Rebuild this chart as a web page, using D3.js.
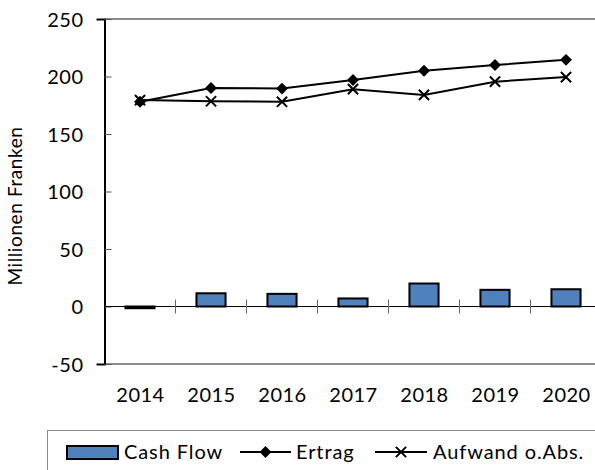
<!DOCTYPE html>
<html>
<head>
<meta charset="utf-8">
<script src="https://cdn.jsdelivr.net/npm/d3@7"></script>
<style>
  body { margin: 0; background: #fff; }
  text { font-family: Lato, "Open Sans", sans-serif; fill: #000; }
</style>
</head>
<body>
<div id="chart"></div>
<script>
var years = ["2014", "2015", "2016", "2017", "2018", "2019", "2020"];
var cashFlow = [-1.5, 11.5, 11, 7, 20, 14.5, 15];
var ertrag = [178, 190, 189.5, 197, 205, 210, 214.5];
var aufwand = [179.5, 178.5, 178, 189, 184, 195.5, 199.5];
var yTicks = [-50, 0, 50, 100, 150, 200, 250];

var svgWidth = 595;
var svgHeight = 470;

var svg = d3.select("#chart")
  .append("svg")
  .attr("width", svgWidth)
  .attr("height", svgHeight);

// plot area runs past the right edge of the picture
var x = d3.scaleBand()
  .domain(years)
  .range([104.5, 601.5]);

var y = d3.scaleLinear()
  .domain([-50, 250])
  .range([364, 19]);

// frame: gray top and bottom
svg.append("line")
  .attr("x1", 104.5).attr("x2", 602)
  .attr("y1", y(250)).attr("y2", y(250))
  .attr("stroke", "#8c8c8c").attr("stroke-width", 2);
svg.append("line")
  .attr("x1", 104.5).attr("x2", 602)
  .attr("y1", y(-50)).attr("y2", y(-50))
  .attr("stroke", "#8c8c8c").attr("stroke-width", 2);

// y axis
var yAxis = svg.append("g")
  .attr("transform", "translate(104.5,0)")
  .call(d3.axisLeft(y).tickValues(yTicks).tickSize(8).tickPadding(13)
    .tickFormat(d => String(d)));
yAxis.select(".domain").attr("stroke", "#000").attr("stroke-width", 2);
yAxis.selectAll(".tick line").attr("x2", 7).attr("stroke", "#555");
yAxis.selectAll(".tick text")
  .style("font-size", "20px")
  .style("font-family", "Lato, sans-serif")
  .style("letter-spacing", "0.5px")
  .attr("dy", "0.35em");

// zero line with crossing category ticks
svg.append("line")
  .attr("x1", 104.5).attr("x2", 602)
  .attr("y1", y(0)).attr("y2", y(0))
  .attr("stroke", "#000").attr("stroke-width", 1);
svg.selectAll(".xtick")
  .data(years.slice(1))
  .enter()
  .append("line")
  .attr("x1", d => x(d)).attr("x2", d => x(d))
  .attr("y1", y(0) - 7).attr("y2", y(0) + 7)
  .attr("stroke", "#666").attr("stroke-width", 1);

// x labels
svg.selectAll(".xlabel")
  .data(years)
  .enter()
  .append("text")
  .attr("x", d => x(d) + x.bandwidth() / 2 + 0.5)
  .attr("y", 401.5)
  .attr("text-anchor", "middle")
  .style("font-size", "20px")
  .style("letter-spacing", "0.5px")
  .text(d => d);

// bars
var barW = x.bandwidth() * 0.41;
svg.selectAll(".bar")
  .data(cashFlow)
  .enter()
  .append("rect")
  .attr("x", (d, i) => x(years[i]) + (x.bandwidth() - barW) / 2)
  .attr("y", d => y(Math.max(0, d)))
  .attr("width", barW)
  .attr("height", d => Math.abs(y(d) - y(0)))
  .attr("fill", "#4f81bd")
  .attr("stroke", "#000")
  .attr("stroke-width", 2);

var cx = (d, i) => x(years[i]) + x.bandwidth() / 2;
var line = d3.line().x(cx).y(d => y(d));

// Ertrag
svg.append("path")
  .datum(ertrag)
  .attr("d", line)
  .attr("fill", "none")
  .attr("stroke", "#000")
  .attr("stroke-width", 2);
var diamond = d3.symbol().type(d3.symbolDiamond2).size(90);
svg.selectAll(".ertrag")
  .data(ertrag)
  .enter()
  .append("path")
  .attr("d", diamond)
  .attr("transform", (d, i) => `translate(${cx(d, i)},${y(d)})`)
  .attr("fill", "#000");

// Aufwand o.Abs.
svg.append("path")
  .datum(aufwand)
  .attr("d", line)
  .attr("fill", "none")
  .attr("stroke", "#000")
  .attr("stroke-width", 2);
var cross = d3.symbol().type(d3.symbolTimes).size(70);
svg.selectAll(".aufwand")
  .data(aufwand)
  .enter()
  .append("path")
  .attr("d", cross)
  .attr("transform", (d, i) => `translate(${cx(d, i)},${y(d)})`)
  .attr("fill", "none")
  .attr("stroke", "#000")
  .attr("stroke-width", 2);

// y title
svg.append("text")
  .attr("transform", "translate(22,206) rotate(-90)")
  .attr("text-anchor", "middle")
  .style("font-size", "19px")
  .style("letter-spacing", "0.6px")
  .text("Millionen Franken");

// legend
var legend = svg.append("g");
legend.append("rect")
  .attr("x", 47.5).attr("y", 430.5)
  .attr("width", 600).attr("height", 60)
  .attr("fill", "none")
  .attr("stroke", "#8c8c8c");

var ly = 452;
legend.append("rect")
  .attr("x", 67).attr("y", 446)
  .attr("width", 51).attr("height", 13)
  .attr("fill", "#4f81bd")
  .attr("stroke", "#000").attr("stroke-width", 2);
legend.append("text")
  .attr("x", 124).attr("y", 459)
  .style("font-size", "20px")
  .style("letter-spacing", "0.9px")
  .text("Cash Flow");

legend.append("line")
  .attr("x1", 240).attr("x2", 291).attr("y1", ly).attr("y2", ly)
  .attr("stroke", "#000").attr("stroke-width", 2);
legend.append("path")
  .attr("d", diamond)
  .attr("transform", `translate(265.5,${ly})`)
  .attr("fill", "#000");
legend.append("text")
  .attr("x", 296).attr("y", 459)
  .style("font-size", "20px")
  .style("letter-spacing", "0.9px")
  .text("Ertrag");

legend.append("line")
  .attr("x1", 375).attr("x2", 427).attr("y1", ly).attr("y2", ly)
  .attr("stroke", "#000").attr("stroke-width", 2);
legend.append("path")
  .attr("d", cross)
  .attr("transform", `translate(401,${ly})`)
  .attr("fill", "none")
  .attr("stroke", "#000").attr("stroke-width", 2);
legend.append("text")
  .attr("x", 433).attr("y", 459)
  .style("font-size", "20px")
  .style("letter-spacing", "0.9px")
  .text("Aufwand o.Abs.");
</script>
</body>
</html>
